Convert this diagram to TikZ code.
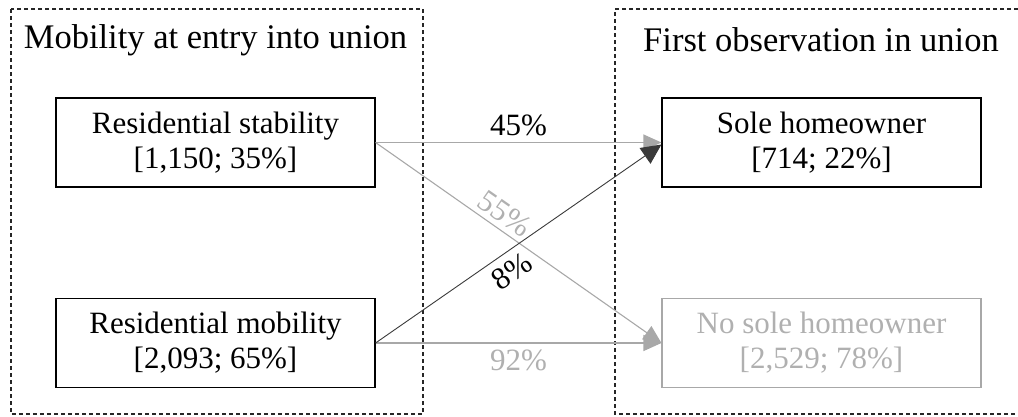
\documentclass[tikz,border=0pt]{standalone}
\usepackage{fontspec}
\setmainfont{Liberation Serif}
\usetikzlibrary{arrows.meta}
\definecolor{litegray}{HTML}{A8A8A8}
\definecolor{litetext}{HTML}{B0B0B0}
\definecolor{darkline}{HTML}{3A3A3A}
\begin{document}
\begin{tikzpicture}[x=1pt,y=-1pt,
    box/.style={draw,line width=1.1pt,minimum width=319pt,minimum height=89pt,
      align=center,inner sep=0pt,font=\fontsize{31}{35}\selectfont},
    title/.style={font=\fontsize{34.5}{40}\selectfont},
    pct/.style={font=\fontsize{31}{35}\selectfont,inner sep=6pt},
    frame/.style={draw=black!85,line width=1.1pt,dash pattern=on 4pt off 3pt},
    lite/.style={draw=litegray,line width=1.1pt,-{Triangle[length=18pt,width=16pt]}},
    heavy/.style={draw=darkline,line width=0.9pt,-{Triangle[length=20pt,width=19pt]}}]
    \useasboundingbox (0,0) rectangle (1018,416);
    \pgfmathsetmacro{\xl}{215.5};
    \pgfmathsetmacro{\xr}{821.5};
    \pgfmathsetmacro{\yt}{142.5};
    \pgfmathsetmacro{\yb}{343};
    % dashed frames
    \draw[frame] (11,9) rectangle (423,414);
    \draw[frame] (1018,9) -- (615,9) -- (615,414) -- (1018,414);
    \node[title] (entry) at (\xl,40) {Mobility at entry into union};
    \node[title] (first) at (821,40) {First observation in union};
    \node[box] (stab) at (\xl,\yt) {Residential stability\\{}[1,150; 35\%]};
    \node[box] (mob) at (\xl,\yb) {Residential mobility\\{}[2,093; 65\%]};
    \node[box] (sole) at (\xr,\yt) {Sole homeowner\\{}[714; 22\%]};
    \node[box,draw=litegray,text=litetext] (nosole) at (\xr,\yb) {No sole homeowner\\{}[2,529; 78\%]};
    \draw[lite] (stab.east) -- (sole.west) node [pct,midway,above] {45\%};
    \draw[lite] (mob.east) -- (nosole.west) node [pct,midway,below,text=litetext] {92\%};
    \draw[lite] (stab.east) -- (nosole.west) node [pct,sloped,pos=0.42,above,inner sep=5pt,text=litetext] {55\%};
    \draw[heavy] (mob.east) -- ([yshift=-2pt]sole.west) node [pct,sloped,pos=0.44,below,inner sep=8pt] {8\%};
\end{tikzpicture}
\end{document}
